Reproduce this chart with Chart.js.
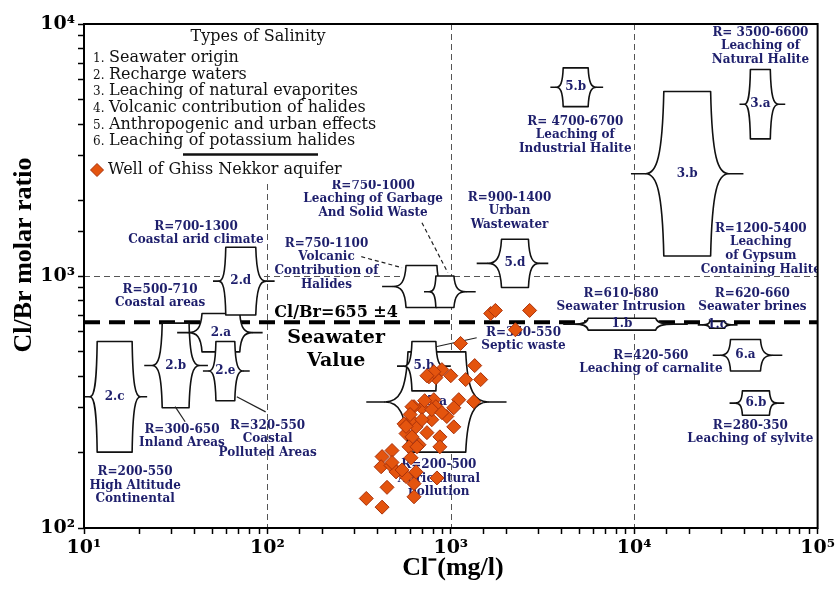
<!DOCTYPE html>
<html>
<head>
<meta charset="utf-8">
<script src="https://cdn.jsdelivr.net/npm/chart.js@4.4.0/dist/chart.umd.min.js"></script>
<style>
  html, body { margin: 0; padding: 0; background: #fff; }
  #c { display: block; }
</style>
</head>
<body>
<canvas id="c" width="838" height="591"></canvas>
<script>
// ---- Wells: chloride (mg/l) and Cl/Br molar ratio ----
const wellCl = [1650, 1750, 2690, 2250, 1130,
  1350, 1455, 1205, 1000, 894, 829, 760, 808,
  1333, 1105, 1038, 951, 1038, 872, 872,
  788, 741, 808, 696, 630, 646, 607, 556,
  570, 614, 671, 592, 478, 422, 417, 472,
  503, 570, 630, 630, 449, 346, 422, 840,
  646, 542, 607, 478, 654, 741, 614, 829,
  788, 894, 720, 600, 570, 696];
const wellRatio = [710, 730, 730, 612, 540,
  441, 388, 388, 402, 425, 395, 398, 417,
  317, 323, 300, 277, 252, 230, 210,
  269, 239, 323, 300, 303, 252, 269, 259,
  237, 230, 214, 210, 203, 192, 175, 177,
  167, 160, 150, 133, 145, 131, 121, 158,
  167, 170, 190, 182, 210, 402, 303, 303,
  295, 287, 320, 282, 253, 269];

// ---- Reference values ----
const seawaterRatio = 655;
const gridCl = [100, 1000, 10000];
const gridRatio = [1000];

// ---- Salinity-origin zones (Cl range of body, Cl range incl. tails, ratio range) ----
const zoneTags      = ['2.c', '2.b', '2.a', '2.e', '2.d', '', '', '5.d', '5.b', '3.a', '3.b', '1.b', '1.c', '6.a', '6.b', '5.a', '5.b'];
const zoneClLo      = [11.8, 26.7, 44.0, 52.4, 59.3, 570, 829, 1890, 4100, 43000, 14500, 5610, 25800, 33500, 38900, 584, 614];
const zoneClHi      = [18.3, 37.4, 70.7, 66.4, 86.4, 840, 1040, 2650, 5610, 55200, 26100, 13100, 31100, 48800, 54600, 1206, 829];
const zoneClTailLo  = [10.0, 21.3, 32.2, 44.5, 50.5, 422, 714, 1384, 3490, 37500, 9600, 4100, 22200, 26800, 33100, 346, 509];
const zoneClTailHi  = [22.1, 47.4, 94.2, 80.1, 109.5, 1051, 1367, 3400, 6770, 66600, 39400, 19600, 36600, 64200, 65800, 2013, 1000];
const zoneRatioLo   = [200, 300, 500, 320, 700, 750, 750, 900, 4700, 3500, 1200, 610, 620, 420, 280, 200, 350];
const zoneRatioHi   = [550, 650, 710, 550, 1300, 1100, 1000, 1400, 6700, 6600, 5400, 680, 660, 560, 350, 500, 550];

// ---- Zone notes (anchor: Cl, ratio of first line) ----
const noteCl    = [48750, 4770, 49000, 2090, 377, 210, 40.8, 26.0, 8475, 44100, 2490, 12330, 43000, 861, 34.2, 100.3, 19.0];
const noteRatio = [9237, 4096, 1540, 2045, 2282, 1343, 1569, 882, 851, 851, 596, 483, 255, 178, 245.5, 255, 167];
const noteText  = [
  ['R= 3500-6600', 'Leaching of', 'Natural Halite'],
  ['R= 4700-6700', 'Leaching of', 'Industrial Halite'],
  ['R=1200-5400', 'Leaching', 'of Gypsum', 'Containing Halite'],
  ['R=900-1400', 'Urban', 'Wastewater'],
  ['R=750-1000', 'Leaching of Garbage', 'And Solid Waste'],
  ['R=750-1100', 'Volcanic', 'Contribution of', 'Halides'],
  ['R=700-1300', 'Coastal arid climate'],
  ['R=500-710', 'Coastal areas'],
  ['R=610-680', 'Seawater Intrusion'],
  ['R=620-660', 'Seawater brines'],
  ['R=350-550', 'Septic waste'],
  ['R=420-560', 'Leaching of carnalite'],
  ['R=280-350', 'Leaching of sylvite'],
  ['R=200-500', 'Agricultural', 'pollution'],
  ['R=300-650', 'Inland Areas'],
  ['R=320-550', 'Coastal', 'Polluted Areas'],
  ['R=200-550', 'High Altitude', 'Continental']
];

// ---- Leader lines from notes to zones: [Cl, ratio] ----
const leaderFrom = [[696, 1627], [325, 1193], [829, 524], [31.4, 303], [68.1, 332]];
const leaderTo   = [[963, 1031], [542, 1079], [1384, 569], [35.6, 264], [97.8, 289]];
const leaderDashed = [true, true, false, false, false];

// ---- Legend text ----
const legendTitle = 'Types of Salinity';
const salinityTypes = ['Seawater origin', 'Recharge waters', 'Leaching of natural evaporites',
  'Volcanic contribution of halides', 'Anthropogenic and urban effects', 'Leaching of potassium halides'];
const seriesName = 'Well of Ghiss Nekkor aquifer';

const SUP = { '1': '\u00B9', '2': '\u00B2', '3': '\u00B3', '4': '\u2074', '5': '\u2075' };
function powerLabel(v) {
  const e = Math.log10(v);
  if (Math.abs(e - Math.round(e)) > 1e-6) return '';
  return '10' + SUP[String(Math.round(e))];
}

const NAVY = '#1e1f6c';
const POINT_FILL = '#E4540E';
const POINT_EDGE = '#A8310A';

// brace-sided box: flat top/bottom between x1..x2, cusps pointing outwards with tails to o1/o2
function drawZone(ctx, x1, x2, o1, o2, yTop, yBot) {
  const ym = (yTop + yBot) / 2, h = (yBot - yTop) / 2;
  const c1 = o1 + (x1 - o1) * 0.45, c2 = o2 - (o2 - x2) * 0.45;
  const d1 = x1 - c1, d2 = c2 - x2;
  ctx.beginPath();
  ctx.moveTo(x1, yTop);
  ctx.lineTo(x2, yTop);
  ctx.bezierCurveTo(x2 + d2 * 0.08, yTop + h * 0.8, x2 + d2 * 0.4, ym, c2, ym);
  ctx.bezierCurveTo(x2 + d2 * 0.4, ym, x2 + d2 * 0.08, yBot - h * 0.8, x2, yBot);
  ctx.lineTo(x1, yBot);
  ctx.bezierCurveTo(x1 - d1 * 0.08, yBot - h * 0.8, x1 - d1 * 0.4, ym, c1, ym);
  ctx.bezierCurveTo(x1 - d1 * 0.4, ym, x1 - d1 * 0.08, yTop + h * 0.8, x1, yTop);
  ctx.closePath();
  ctx.fillStyle = '#fff';
  ctx.fill();
  ctx.stroke();
  ctx.beginPath();
  ctx.moveTo(o1, ym); ctx.lineTo(c1, ym);
  ctx.moveTo(c2, ym); ctx.lineTo(o2, ym);
  ctx.stroke();
}

function diamond(ctx, x, y, r) {
  ctx.beginPath();
  ctx.moveTo(x, y - r); ctx.lineTo(x + r, y); ctx.lineTo(x, y + r); ctx.lineTo(x - r, y);
  ctx.closePath();
  ctx.fillStyle = POINT_FILL; ctx.fill();
  ctx.lineWidth = 1; ctx.strokeStyle = POINT_EDGE; ctx.stroke();
}

const zonesPlugin = {
  id: 'zones',
  beforeDatasetsDraw(chart) {
    const { ctx, chartArea: a, scales: { x, y } } = chart;
    ctx.save();
    ctx.beginPath(); ctx.rect(a.left, a.top, a.right - a.left, a.bottom - a.top); ctx.clip();

    // dashed decade lines
    ctx.strokeStyle = '#555'; ctx.lineWidth = 1; ctx.setLineDash([6, 4]);
    gridCl.forEach(v => { const p = Math.round(x.getPixelForValue(v)) + 0.5; ctx.beginPath(); ctx.moveTo(p, a.top); ctx.lineTo(p, a.bottom); ctx.stroke(); });
    gridRatio.forEach(v => { const p = Math.round(y.getPixelForValue(v)) + 0.5; ctx.beginPath(); ctx.moveTo(a.left, p); ctx.lineTo(a.right, p); ctx.stroke(); });

    // seawater Cl/Br line
    ctx.strokeStyle = '#000'; ctx.lineWidth = 4; ctx.setLineDash([16, 9]);
    const ys = y.getPixelForValue(seawaterRatio);
    ctx.beginPath(); ctx.moveTo(a.left, ys); ctx.lineTo(a.right, ys); ctx.stroke();
    ctx.setLineDash([]);

    // zones
    ctx.lineJoin = 'round';
    zoneTags.forEach((tag, i) => {
      const x1 = x.getPixelForValue(zoneClLo[i]), x2 = x.getPixelForValue(zoneClHi[i]);
      const o1 = x.getPixelForValue(zoneClTailLo[i]), o2 = x.getPixelForValue(zoneClTailHi[i]);
      const yt = y.getPixelForValue(zoneRatioHi[i]), yb = y.getPixelForValue(zoneRatioLo[i]);
      ctx.strokeStyle = '#111'; ctx.lineWidth = 1.6;
      drawZone(ctx, x1, x2, o1, o2, yt, yb);
      if (tag) {
        ctx.fillStyle = NAVY; ctx.font = 'bold 12px "DejaVu Serif"';
        ctx.textAlign = 'center'; ctx.textBaseline = 'middle';
        ctx.fillText(tag, (x1 + x2) / 2, (yt + yb) / 2);
      }
    });

    // leader lines
    ctx.strokeStyle = '#222'; ctx.lineWidth = 1.2;
    leaderFrom.forEach((f, i) => {
      const t = leaderTo[i];
      ctx.setLineDash(leaderDashed[i] ? [4, 3] : []);
      ctx.beginPath();
      ctx.moveTo(x.getPixelForValue(f[0]), y.getPixelForValue(f[1]));
      ctx.lineTo(x.getPixelForValue(t[0]), y.getPixelForValue(t[1]));
      ctx.stroke();
    });
    ctx.setLineDash([]);

    // zone notes
    ctx.fillStyle = NAVY; ctx.font = 'bold 12px "DejaVu Serif"';
    ctx.textAlign = 'center'; ctx.textBaseline = 'middle';
    noteText.forEach((lines, i) => {
      const cx = x.getPixelForValue(noteCl[i]), cy = y.getPixelForValue(noteRatio[i]);
      lines.forEach((s, k) => ctx.fillText(s, cx, cy + k * 13.6));
    });

    // seawater value text
    ctx.fillStyle = '#000';
    const sx = x.getPixelForValue(237);
    ctx.font = 'bold 16px "DejaVu Serif"';
    ctx.fillText('Cl/Br=655 \u00B14', sx, y.getPixelForValue(715));
    ctx.font = 'bold 19px "DejaVu Serif"';
    ctx.fillText('Seawater', sx, y.getPixelForValue(569));
    ctx.fillText('Value', sx, y.getPixelForValue(461));
    ctx.restore();
  },
  afterDatasetsDraw(chart) {
    const { ctx, chartArea: a } = chart;
    ctx.save();
    // legend panel
    ctx.fillStyle = '#fff';
    ctx.fillRect(a.left + 1, a.top + 1, 306, 155);
    ctx.fillStyle = '#111';
    ctx.textBaseline = 'middle';
    ctx.textAlign = 'center';
    ctx.font = '16px "DejaVu Serif"';
    ctx.fillText(legendTitle, 258, 37);
    ctx.textAlign = 'left';
    salinityTypes.forEach((s, k) => {
      const yy = 58 + k * 16.6;
      ctx.font = '12px "DejaVu Serif"';
      ctx.fillText((k + 1) + '.', 93, yy + 1);
      ctx.font = '16px "DejaVu Serif"';
      ctx.fillText(s, 109, yy);
    });
    ctx.strokeStyle = '#111'; ctx.lineWidth = 2.5;
    ctx.beginPath(); ctx.moveTo(183, 154.5); ctx.lineTo(318, 154.5); ctx.stroke();
    diamond(ctx, 97, 170, 6.5);
    ctx.fillStyle = '#111';
    ctx.font = '16px "DejaVu Serif"';
    ctx.fillText(seriesName, 108, 170);

    // plot frame
    ctx.strokeStyle = '#000'; ctx.lineWidth = 2;
    ctx.strokeRect(a.left, a.top, a.right - a.left, a.bottom - a.top);

    // axis titles
    ctx.fillStyle = '#000';
    ctx.font = 'bold 26px "Liberation Serif"';
    ctx.textAlign = 'center';
    ctx.fillText('Cl\u207B(mg/l)', 453, 568);
    ctx.translate(24, 255);
    ctx.rotate(-Math.PI / 2);
    ctx.fillText('Cl/Br molar ratio', 0, 0);
    ctx.restore();
  }
};

const tickFont = { family: 'DejaVu Serif', weight: 'bold', size: 19 };

new Chart(document.getElementById('c'), {
  type: 'scatter',
  data: {
    datasets: [{
      label: seriesName,
      data: wellCl.map((c, i) => ({ x: c, y: wellRatio[i] })),
      pointStyle: 'rectRot',
      pointRadius: 7,
      pointHoverRadius: 7,
      backgroundColor: POINT_FILL,
      borderColor: POINT_EDGE,
      borderWidth: 1
    }]
  },
  options: {
    responsive: false,
    animation: false,
    devicePixelRatio: 1,
    layout: { padding: { top: 24, right: 17, left: 0, bottom: 0 } },
    plugins: { legend: { display: false }, tooltip: { enabled: false } },
    scales: {
      x: {
        type: 'logarithmic', min: 10, max: 100000, position: 'bottom',
        afterFit: s => { s.height = 63; },
        grid: { drawOnChartArea: false, drawTicks: true, tickLength: 6, tickColor: '#000', tickWidth: 1.5 },
        border: { display: false },
        ticks: { autoSkip: false, maxRotation: 0, minRotation: 0, padding: 3, color: '#000', font: tickFont, callback: v => powerLabel(v) }
      },
      y: {
        type: 'logarithmic', min: 100, max: 10000, position: 'left',
        afterFit: s => { s.width = 84; },
        grid: { drawOnChartArea: false, drawTicks: true, tickLength: 6, tickColor: '#000', tickWidth: 1.5 },
        border: { display: false },
        ticks: { autoSkip: false, padding: 3, color: '#000', font: tickFont, callback: v => powerLabel(v) }
      }
    }
  },
  plugins: [zonesPlugin]
});
</script>
</body>
</html>
